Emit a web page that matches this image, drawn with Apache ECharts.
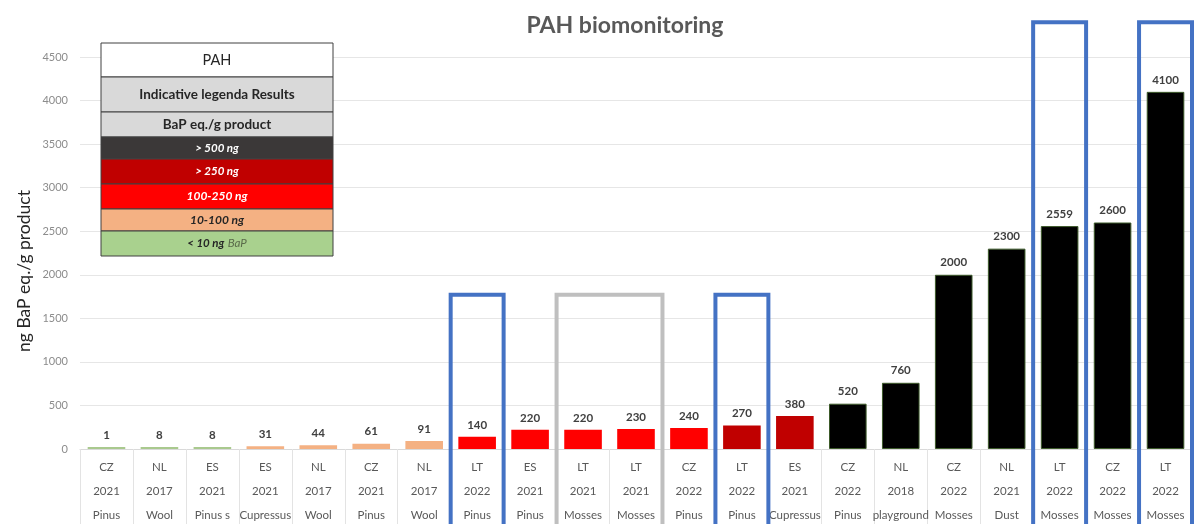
<!DOCTYPE html>
<html><head><meta charset="utf-8">
<script src="https://cdn.jsdelivr.net/npm/echarts@6/dist/echarts.min.js"></script>
<style>html,body{margin:0;padding:0;background:#fff}#c{width:1202px;height:524px}</style>
</head><body><div id="c"></div>
<script>
const countries = ['CZ','NL','ES','ES','NL','CZ','NL','LT','ES','LT','LT','CZ','LT','ES','CZ','NL','CZ','NL','LT','CZ','LT'];
const years = ['2021','2017','2021','2021','2017','2021','2017','2022','2021','2021','2021','2022','2022','2021','2022','2018','2022','2021','2022','2022','2022'];
const products = ['Pinus','Wool','Pinus s','Cupressus','Wool','Pinus','Wool','Pinus','Pinus','Mosses','Mosses','Pinus','Pinus','Cupressus','Pinus','playground','Mosses','Dust','Mosses','Mosses','Mosses'];
const values = [1,8,8,31,44,61,91,140,220,220,230,240,270,380,520,760,2000,2300,2559,2600,4100];
const yTicks = [0,500,1000,1500,2000,2500,3000,3500,4000,4500];
// highlighted groups: [first index, last index, top value, kind]
const highlightStart = [7, 9, 12, 18, 20];
const highlightEnd   = [7, 10, 12, 18, 20];
const highlightTop   = [1770, 1770, 1770, 4900, 4900];
const highlightKind  = ['blue','gray','blue','blue','blue'];
const legendRows = ['PAH','Indicative legenda Results','BaP eq./g product','> 500 ng','> 250 ng','100-250 ng','10-100 ng','< 10 ng'];
const yAxisTitle = 'ng BaP eq./g product';

const FONT = 'Lato';
function barColor(v){
  if (v < 10) return '#a9c98e';
  if (v < 100) return '#f4b183';
  if (v <= 250) return '#ff0000';
  if (v <= 500) return '#c00000';
  return '#000000';
}
const cats = countries.map((c,i)=> c + '\n' + years[i] + '\n' + products[i]);

// legend table graphic
const L = {x:101, w:232};
const rowsY = [43,77,112,137,159,184,209,231,256];
const rowFill = ['#ffffff','#d9d9d9','#d9d9d9','#3b3838','#c00000','#ff0000','#f4b183','#a9d18e'];
const rowText = ['#262626','#262626','#262626','#ffffff','#ffffff','#ffffff','#262626','#262626'];
const rowStyle = ['normal','normal','normal','italic','italic','italic','italic','italic'];
const rowSize = [14.5,13.5,13.5,11.5,11.5,12,12,11.5];
const legendGraphics = [];
legendRows.forEach((t,i)=>{
  legendGraphics.push({type:'rect', shape:{x:L.x, y:rowsY[i], width:L.w, height:rowsY[i+1]-rowsY[i]},
    style:{fill:rowFill[i], stroke:'#404040', lineWidth:1}, z:100});
  if (i === 7) {
    legendGraphics.push({type:'text', x:L.x+L.w/2, y:(rowsY[i]+rowsY[i+1])/2, z:101,
      style:{rich:{a:{fontWeight:'bold',fontStyle:'italic',fill:'#262626',fontSize:11.5,fontFamily:FONT},
                   b:{fontStyle:'italic',fill:'#5a6b4a',fontSize:11.5,fontFamily:FONT}},
             text:'{a|' + t + '} {b|BaP}', align:'center', verticalAlign:'middle'}});
  } else {
    legendGraphics.push({type:'text', x:L.x+L.w/2, y:(rowsY[i]+rowsY[i+1])/2, z:101,
      style:{text:t, fill:rowText[i], fontSize:rowSize[i], fontWeight: i===0?'normal':'bold',
             fontStyle:rowStyle[i], fontFamily:FONT, align:'center', verticalAlign:'middle'}});
  }
});
legendGraphics.push({type:'text', x:24, y:271, rotation:Math.PI/2, z:50,
  style:{text:yAxisTitle, fill:'#262626', fontSize:17.5, fontFamily:FONT, align:'center', verticalAlign:'middle'}});

const boxData = highlightStart.map((s,i)=>[s, highlightEnd[i], highlightTop[i], highlightKind[i]]);

const chart = echarts.init(document.getElementById('c'), null, {renderer:'canvas'});
chart.setOption({
  animation:false,
  textStyle:{fontFamily:FONT},
  title:{text:'PAH biomonitoring', left:620, top:9, textAlign:'center',
    textStyle:{fontFamily:FONT, fontSize:23, fontWeight:'bold', color:'#595959'}},
  grid:{left:80, right:10, top:57, bottom:75, outerBoundsMode:'none', containLabel:false},
  xAxis:{type:'category', data:cats,
    axisLine:{show:true, lineStyle:{color:'#d9d9d9', width:1}},
    axisTick:{show:true, length:80, interval:0, lineStyle:{color:'#e3e3e3'}},
    axisLabel:{interval:0, margin:6, color:'#595959', fontSize:11.5, lineHeight:24, fontFamily:FONT}},
  yAxis:{type:'value', min:0, max:4500, interval:500,
    axisLine:{show:false}, axisTick:{show:false},
    axisLabel:{color:'#8c8c8c', fontSize:11, margin:12, fontFamily:FONT,
      formatter:(v)=> yTicks.includes(v) ? String(v) : ''},
    splitLine:{lineStyle:{color:'#e6e6e6', width:1}}},
  series:[
    {type:'bar', barWidth:'71%', barMinHeight:2,
      data: values.map(v=>({value:v, itemStyle:{color:barColor(v),
        borderColor: v>500 ? '#3d5a2a' : barColor(v), borderWidth: v>500 ? 1 : 0}})),
      label:{show:true, position:'top', distance:6, color:'#404040', fontSize:11.5, fontWeight:'bold', fontFamily:FONT}},
    {type:'custom', clip:false, z:10, silent:true,
      data: boxData,
      renderItem:(params, api)=>{
        const s = api.value(0), e = api.value(1), top = api.value(2);
        const kind = boxData[params.dataIndex][3];
        const band = api.size([1,0])[0];
        const p1 = api.coord([s, top]);
        const p2 = api.coord([e, 0]);
        const x0 = p1[0] - band/2, x1 = p2[0] + band/2;
        return {type:'rect', shape:{x:x0, y:p1[1], width:x1-x0, height:p2[1]-p1[1]+120},
          style:{fill:'none', stroke: kind==='blue' ? '#4472c4' : '#bfbfbf', lineWidth:4}};
      }}
  ],
  graphic: legendGraphics
});
</script></body></html>
